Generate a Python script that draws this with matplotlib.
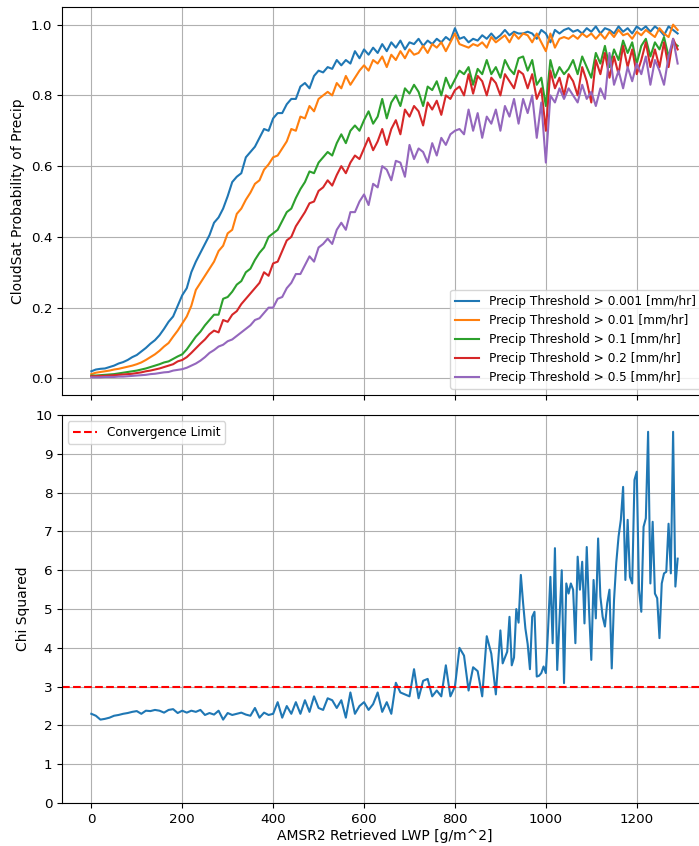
import numpy as np
import matplotlib.pyplot as plt

# --- LWP bins (g/m^2) ---
lwp = np.arange(0, 1291, 10)

# probability of precip for each threshold, every 10 g/m^2
p_001 = [0.020, 0.025, 0.027, 0.028, 0.032, 0.036, 0.042, 0.046, 0.052, 0.060,
         0.066, 0.076, 0.086, 0.098, 0.108, 0.122, 0.140, 0.160, 0.175, 0.205,
         0.235, 0.255, 0.300, 0.330, 0.355, 0.380, 0.405, 0.440, 0.455, 0.480,
         0.515, 0.555, 0.570, 0.580, 0.625, 0.640, 0.655, 0.680, 0.705, 0.700,
         0.735, 0.750, 0.750, 0.775, 0.790, 0.790, 0.825, 0.835, 0.820, 0.855,
         0.870, 0.865, 0.880, 0.875, 0.900, 0.885, 0.900, 0.890, 0.925, 0.905,
         0.930, 0.915, 0.935, 0.920, 0.945, 0.925, 0.950, 0.935, 0.955, 0.930,
         0.950, 0.945, 0.960, 0.940, 0.955, 0.945, 0.960, 0.950, 0.965, 0.955,
         0.990, 0.960, 0.965, 0.950, 0.960, 0.955, 0.970, 0.960, 0.975, 0.960,
         0.970, 0.985, 0.970, 0.980, 0.975, 0.975, 0.980, 0.975, 0.960, 0.985,
         0.975, 0.950, 0.985, 0.975, 0.985, 0.990, 0.980, 0.985, 0.975, 0.990,
         0.980, 0.995, 0.975, 0.990, 0.985, 0.975, 0.995, 0.980, 0.990, 0.975,
         0.995, 0.985, 0.995, 0.980, 0.995, 0.985, 0.970, 0.995, 0.985, 0.975]

p_01 = [0.012, 0.016, 0.018, 0.020, 0.022, 0.025, 0.027, 0.030, 0.033, 0.036,
        0.040, 0.045, 0.052, 0.060, 0.068, 0.078, 0.090, 0.100, 0.118, 0.135,
        0.155, 0.175, 0.205, 0.250, 0.270, 0.290, 0.310, 0.330, 0.360, 0.375,
        0.410, 0.420, 0.465, 0.480, 0.505, 0.525, 0.550, 0.560, 0.590, 0.605,
        0.625, 0.630, 0.650, 0.670, 0.705, 0.700, 0.740, 0.735, 0.770, 0.755,
        0.790, 0.800, 0.810, 0.800, 0.835, 0.820, 0.855, 0.830, 0.850, 0.870,
        0.885, 0.870, 0.900, 0.890, 0.910, 0.880, 0.915, 0.900, 0.925, 0.905,
        0.930, 0.915, 0.920, 0.940, 0.920, 0.945, 0.935, 0.950, 0.925, 0.950,
        0.975, 0.945, 0.940, 0.935, 0.945, 0.940, 0.950, 0.935, 0.965, 0.950,
        0.960, 0.970, 0.950, 0.975, 0.960, 0.975, 0.970, 0.950, 0.975, 0.950,
        0.925, 0.975, 0.935, 0.960, 0.965, 0.960, 0.970, 0.960, 0.975, 0.965,
        0.975, 0.960, 0.975, 0.960, 0.980, 0.965, 0.985, 0.970, 0.975, 0.960,
        0.980, 0.970, 0.985, 0.975, 0.965, 0.990, 0.975, 0.965, 1.000, 0.985]

p_1 = [0.008, 0.008, 0.009, 0.010, 0.011, 0.012, 0.014, 0.016, 0.018, 0.020,
       0.022, 0.025, 0.028, 0.032, 0.036, 0.040, 0.045, 0.048, 0.055, 0.062,
       0.068, 0.082, 0.100, 0.118, 0.132, 0.150, 0.165, 0.180, 0.180, 0.225,
       0.230, 0.245, 0.265, 0.275, 0.300, 0.310, 0.335, 0.355, 0.370, 0.400,
       0.410, 0.420, 0.445, 0.470, 0.480, 0.510, 0.535, 0.555, 0.585, 0.580,
       0.610, 0.625, 0.640, 0.630, 0.665, 0.690, 0.665, 0.700, 0.715, 0.700,
       0.730, 0.755, 0.720, 0.740, 0.790, 0.735, 0.780, 0.800, 0.770, 0.820,
       0.805, 0.830, 0.810, 0.770, 0.825, 0.815, 0.840, 0.800, 0.850, 0.820,
       0.845, 0.870, 0.860, 0.880, 0.830, 0.875, 0.860, 0.900, 0.860, 0.880,
       0.850, 0.900, 0.875, 0.860, 0.905, 0.910, 0.870, 0.900, 0.830, 0.850,
       0.770, 0.900, 0.850, 0.880, 0.860, 0.875, 0.900, 0.860, 0.910, 0.880,
       0.850, 0.920, 0.890, 0.940, 0.880, 0.930, 0.900, 0.955, 0.920, 0.950,
       0.890, 0.940, 0.960, 0.910, 0.950, 0.930, 0.965, 0.910, 0.950, 0.940]

p_2 = [0.006, 0.006, 0.007, 0.007, 0.008, 0.009, 0.010, 0.011, 0.012, 0.013,
       0.015, 0.017, 0.020, 0.022, 0.025, 0.028, 0.032, 0.036, 0.040, 0.048,
       0.052, 0.060, 0.072, 0.085, 0.098, 0.110, 0.125, 0.135, 0.130, 0.165,
       0.160, 0.180, 0.190, 0.210, 0.225, 0.240, 0.255, 0.270, 0.300, 0.290,
       0.325, 0.330, 0.360, 0.390, 0.400, 0.430, 0.450, 0.470, 0.495, 0.500,
       0.530, 0.540, 0.560, 0.545, 0.575, 0.600, 0.580, 0.610, 0.630, 0.620,
       0.650, 0.680, 0.645, 0.670, 0.705, 0.660, 0.705, 0.730, 0.690, 0.760,
       0.740, 0.770, 0.755, 0.715, 0.780, 0.760, 0.785, 0.745, 0.800, 0.790,
       0.815, 0.825, 0.800, 0.860, 0.805, 0.855, 0.840, 0.800, 0.850, 0.835,
       0.800, 0.860, 0.840, 0.820, 0.870, 0.860, 0.820, 0.860, 0.790, 0.820,
       0.700, 0.870, 0.820, 0.850, 0.800, 0.860, 0.840, 0.800, 0.880, 0.840,
       0.780, 0.900, 0.860, 0.920, 0.850, 0.910, 0.860, 0.940, 0.880, 0.930,
       0.860, 0.900, 0.950, 0.880, 0.930, 0.880, 0.950, 0.880, 0.960, 0.930]

p_5 = [0.003, 0.003, 0.003, 0.004, 0.004, 0.004, 0.005, 0.005, 0.006, 0.007,
       0.008, 0.009, 0.010, 0.012, 0.013, 0.015, 0.017, 0.018, 0.022, 0.024,
       0.026, 0.030, 0.036, 0.042, 0.050, 0.060, 0.072, 0.080, 0.090, 0.095,
       0.105, 0.110, 0.120, 0.130, 0.140, 0.150, 0.165, 0.170, 0.185, 0.200,
       0.200, 0.225, 0.230, 0.255, 0.270, 0.295, 0.295, 0.320, 0.345, 0.330,
       0.370, 0.380, 0.395, 0.380, 0.420, 0.440, 0.420, 0.470, 0.470, 0.500,
       0.520, 0.490, 0.550, 0.540, 0.600, 0.590, 0.560, 0.615, 0.610, 0.570,
       0.660, 0.620, 0.650, 0.640, 0.610, 0.665, 0.630, 0.680, 0.660, 0.690,
       0.700, 0.705, 0.690, 0.760, 0.700, 0.750, 0.680, 0.740, 0.720, 0.760,
       0.700, 0.770, 0.740, 0.790, 0.720, 0.790, 0.750, 0.800, 0.680, 0.780,
       0.610, 0.800, 0.780, 0.820, 0.790, 0.820, 0.800, 0.780, 0.830, 0.790,
       0.810, 0.770, 0.820, 0.790, 0.920, 0.830, 0.870, 0.820, 0.880, 0.840,
       0.890, 0.860, 0.910, 0.830, 0.900, 0.870, 0.830, 0.910, 0.960, 0.890]

thresholds = ['0.001', '0.01', '0.1', '0.2', '0.5']
probs = [p_001, p_01, p_1, p_2, p_5]

# chi squared: every 10 up to 890, then every 5 (noisier part)
chi_x = np.concatenate([np.arange(0, 900, 10), np.arange(900, 1291, 5)])
chi = [2.30, 2.25, 2.15, 2.17, 2.20, 2.25, 2.27, 2.30, 2.32, 2.35,
       2.37, 2.30, 2.38, 2.37, 2.40, 2.38, 2.33, 2.40, 2.42, 2.32,
       2.38, 2.33, 2.38, 2.35, 2.40, 2.27, 2.32, 2.28, 2.38, 2.15,
       2.32, 2.27, 2.30, 2.33, 2.28, 2.25, 2.45, 2.20, 2.33, 2.27,
       2.30, 2.60, 2.20, 2.50, 2.30, 2.60, 2.30, 2.65, 2.35, 2.75,
       2.45, 2.40, 2.70, 2.65, 2.45, 2.65, 2.20, 2.85, 2.30, 2.50,
       2.60, 2.40, 2.55, 2.85, 2.35, 2.60, 2.30, 3.10, 2.85, 2.80,
       2.75, 3.45, 2.70, 3.15, 3.20, 2.75, 2.90, 2.75, 3.55, 2.75,
       3.00, 4.00, 3.80, 2.90, 3.50, 3.40, 2.75, 4.30, 3.85, 2.80,
       4.45, 3.60, 3.75, 3.90, 4.80, 3.55, 3.75, 5.00, 4.65, 5.88,
       5.15, 4.50, 4.10, 3.45, 4.80, 4.93, 3.26, 3.28, 3.35, 3.52,
       3.35, 4.50, 5.83, 4.12, 6.57, 3.43, 4.70, 6.00, 3.09, 5.66,
       5.40, 5.66, 5.50, 4.12, 6.35, 5.50, 6.22, 4.63, 6.60, 5.00,
       3.69, 5.75, 4.76, 6.82, 5.32, 4.80, 4.55, 5.15, 5.50, 3.47,
       5.23, 6.20, 6.87, 7.30, 8.15, 5.75, 7.30, 5.83, 5.66, 8.33,
       8.54, 5.50, 4.93, 7.12, 7.34, 9.57, 5.66, 7.25, 5.40, 5.28,
       4.25, 5.66, 5.92, 5.96, 7.20, 5.92, 9.57, 5.58, 6.30]
chi_limit = 3

fig, (ax1, ax2) = plt.subplots(2, 1, figsize=(6.99, 8.46), dpi=100, sharex=True)
fig.subplots_adjust(left=0.0887, right=1.0114, top=0.9917, bottom=0.0508, hspace=0.052)

# --- top: probability of precip ---
for thr, p in zip(thresholds, probs):
    ax1.plot(lwp, p, label=f'Precip Threshold > {thr} [mm/hr]')
ax1.set_ylabel('CloudSat Probability of Precip', fontsize=10)
ax1.legend(loc='lower right', fontsize=8.7)
ax1.grid(True)
ax1.tick_params(labelsize=9.7)

# --- bottom: chi squared ---
ax2.plot(chi_x, chi)
ax2.axhline(chi_limit, color='r', linestyle='--', label='Convergence Limit')
ax2.set_ylim(0, 10)
ax2.set_yticks(range(0, 11))
ax2.set_ylabel('Chi Squared', fontsize=10)
ax2.set_xlabel('AMSR2 Retrieved LWP [g/m^2]', fontsize=10, labelpad=2)
ax2.legend(loc='upper left', fontsize=8.7)
ax2.grid(True)
ax2.tick_params(labelsize=9.7)

fig.savefig('out.png', dpi=100)
